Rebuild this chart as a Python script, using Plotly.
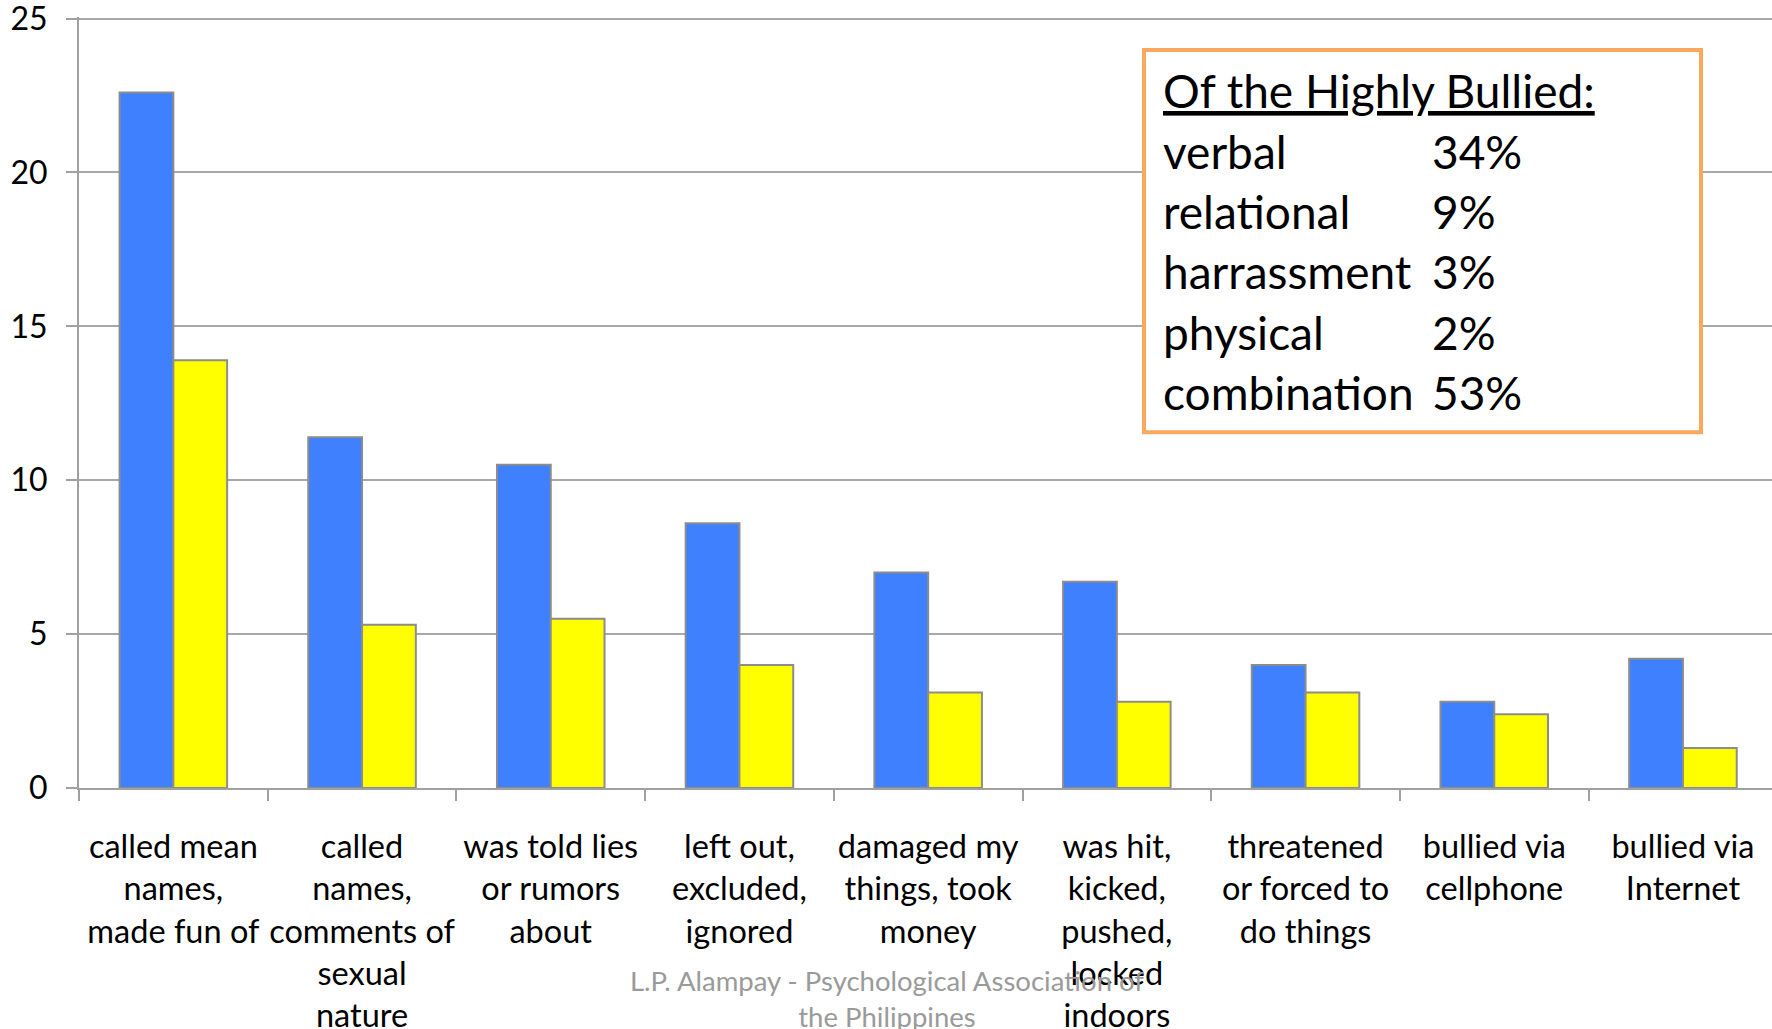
import plotly.graph_objects as go

# Categories of bullying experiences (multi-line labels)
categories = [
    "called mean<br>names,<br>made fun of",
    "called<br>names,<br>comments of<br>sexual<br>nature",
    "was told lies<br>or rumors<br>about",
    "left out,<br>excluded,<br>ignored",
    "damaged my<br>things, took<br>money",
    "was hit,<br>kicked,<br>pushed,<br>locked<br>indoors",
    "threatened<br>or forced to<br>do things",
    "bullied via<br>cellphone",
    "bullied via<br>Internet",
]
series_blue = [22.6, 11.4, 10.5, 8.6, 7.0, 6.7, 4.0, 2.8, 4.2]
series_yellow = [13.9, 5.3, 5.5, 4.0, 3.1, 2.8, 3.1, 2.4, 1.3]
y_ticks = [0, 5, 10, 15, 20, 25]

# Summary box contents
box_title = "Of the Highly Bullied:"
box_types = ["verbal", "relational", "harrassment", "physical", "combination"]
box_shares = ["34%", "9%", "3%", "2%", "53%"]

footer = "L.P. Alampay - Psychological Association of<br>the Philippines"

FONT = "Lato"
W, H = 1772, 1029
Y_TOP = 25.05          # a hair above 25 so the top gridline and label are kept
ML = 79
Y0 = 787.7
PX_PER_UNIT = 30.77
MT = Y0 - Y_TOP * PX_PER_UNIT
PW = W - ML
PH = Y0 - MT
CAT_W = 188.7

fig = go.Figure()
fig.add_trace(go.Bar(
    x=categories, y=series_blue, name="blue",
    marker=dict(color="#3F80FF", line=dict(color="#8C8C8C", width=2)),
))
fig.add_trace(go.Bar(
    x=categories, y=series_yellow, name="yellow",
    marker=dict(color="#FFFF00", line=dict(color="#8C8C8C", width=2)),
))

def px_x(px):
    return (px - ML) / PW

def px_y(py):
    return (Y0 - py) / PH

# Summary box frame
fig.add_shape(type="rect", xref="paper", yref="paper",
              x0=px_x(1144), x1=px_x(1701), y0=px_y(432), y1=px_y(50),
              line=dict(color="#F9A85E", width=4), fillcolor="white", layer="above")

BOX_FS = 46
row_baselines = [108 + 60.4 * i for i in range(6)]

def add_text(text, x_px, baseline, size, color="black"):
    fig.add_annotation(
        xref="paper", yref="paper", x=px_x(x_px), y=px_y(baseline - 0.38 * size),
        text=text, showarrow=False, xanchor="left", yanchor="middle",
        font=dict(family=FONT, size=size, color=color),
    )

add_text("<u>" + box_title + "</u>", 1161, row_baselines[0], BOX_FS)
for i, (t, s) in enumerate(zip(box_types, box_shares)):
    add_text(t, 1161, row_baselines[i + 1], BOX_FS)
    add_text(s, 1430, row_baselines[i + 1], BOX_FS)

fig.add_annotation(
    xref="paper", yref="paper", x=px_x(887), y=px_y(998),
    text=footer, showarrow=False, xanchor="center", yanchor="middle",
    font=dict(family=FONT, size=27.5, color="#9A9A9A"),
)

fig.update_layout(
    width=W, height=H,
    margin=dict(l=ML, r=0, t=MT, b=H - Y0),
    paper_bgcolor="white", plot_bgcolor="white",
    barmode="group", bargap=0.43, bargroupgap=0,
    showlegend=False,
    font=dict(family=FONT, color="black"),
)
fig.update_xaxes(
    type="category",
    range=[-0.5, -0.5 + PW / CAT_W],
    showline=True, linecolor="#A0A0A0", linewidth=2,
    ticks="outside", tickson="boundaries", ticklen=11, tickcolor="#A0A0A0", tickwidth=2,
    tickfont=dict(family=FONT, size=32.5, color="black"),
    ticklabelstandoff=29, automargin=False,
    showgrid=False, zeroline=False, tickangle=0,
)
fig.update_yaxes(
    range=[0, Y_TOP], tickvals=y_ticks,
    showline=True, linecolor="#A0A0A0", linewidth=2,
    ticks="outside", ticklen=11, tickcolor="#A0A0A0", tickwidth=2,
    showgrid=True, gridcolor="#A8A8A8", gridwidth=2,
    tickfont=dict(family=FONT, size=32, color="black"),
    ticklabelstandoff=12, ticklabeloverflow="allow", automargin=False,
    zeroline=False,
)

fig.write_html("out.html")
